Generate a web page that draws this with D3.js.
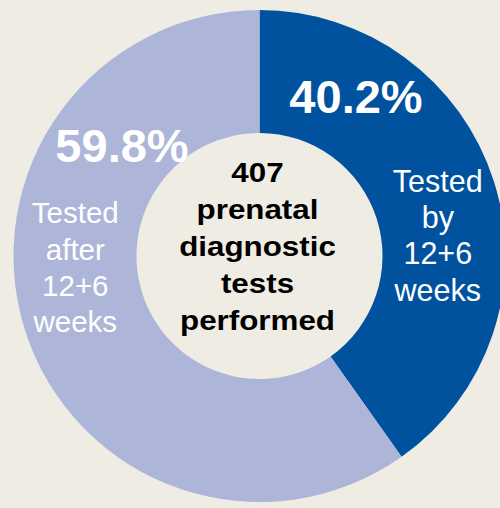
<!DOCTYPE html>
<html>
<head>
<meta charset="utf-8">
<script src="https://cdn.jsdelivr.net/npm/d3@7"></script>
<style>
  html, body { margin: 0; padding: 0; background: #efece4; }
  svg { display: block; }
  text { font-family: "Liberation Sans", Arial, sans-serif; }
</style>
</head>
<body>
<svg width="500" height="508"></svg>
<script>
// data
let categories = ["Tested by 12+6 weeks", "Tested after 12+6 weeks"];
let shares = [40.2, 59.8];
let pctLabels = ["40.2%", "59.8%"];
let catLines = [["Tested", "by", "12+6", "weeks"], ["Tested", "after", "12+6", "weeks"]];
let centerLines = ["407", "prenatal", "diagnostic", "tests", "performed"];

let colors = ["#00529f", "#adb6d8"];

let svg = d3.select("svg");
var cx = 259.5, cy = 256;
var outerR = 246, innerR = 123;

let chartG = svg.append("g")
  .attr("transform", "translate(" + cx + ", " + cy + ")");

var pie = d3.pie().sort(null).value(function(d) { return d; });
var arc = d3.arc().innerRadius(innerR).outerRadius(outerR);

chartG.selectAll("path.slice")
  .data(pie(shares))
  .join("path")
    .attr("class", "slice")
    .attr("d", arc)
    .attr("fill", function(d, i) { return colors[i]; });

// percentage labels (offsets from centre)
var pctPos = [{x: 96.5, y: -143}, {x: -137.5, y: -94}];
chartG.selectAll("text.pct")
  .data(pctLabels)
  .join("text")
    .attr("class", "pct")
    .attr("x", function(d, i) { return pctPos[i].x; })
    .attr("y", function(d, i) { return pctPos[i].y; })
    .attr("text-anchor", "middle")
    .attr("fill", "#ffffff")
    .attr("font-weight", "bold")
    .attr("font-size", "47px")
    .text(function(d) { return d; });

// category labels
var catPos = [{x: 178.3, y: -64, size: 30.5}, {x: -184.2, y: -32.7, size: 29.5}];
var lineH = 36.2;
catLines.forEach(function(lines, i) {
  let t = chartG.append("text")
    .attr("text-anchor", "middle")
    .attr("fill", "#ffffff")
    .attr("font-size", catPos[i].size + "px");
  lines.forEach(function(l, j) {
    t.append("tspan")
      .attr("x", catPos[i].x)
      .attr("y", catPos[i].y + j * lineH)
      .text(l);
  });
});

// centre label, slightly stretched like the original
let ct = chartG.append("text")
  .attr("transform", "translate(-2, 0) scale(1.1, 1)")
  .attr("text-anchor", "middle")
  .attr("fill", "#000000")
  .attr("font-weight", "bold")
  .attr("font-size", "28.5px");
centerLines.forEach(function(l, j) {
  ct.append("tspan")
    .attr("x", 0)
    .attr("y", -74 + j * 37)
    .text(l);
});
</script>
</body>
</html>
